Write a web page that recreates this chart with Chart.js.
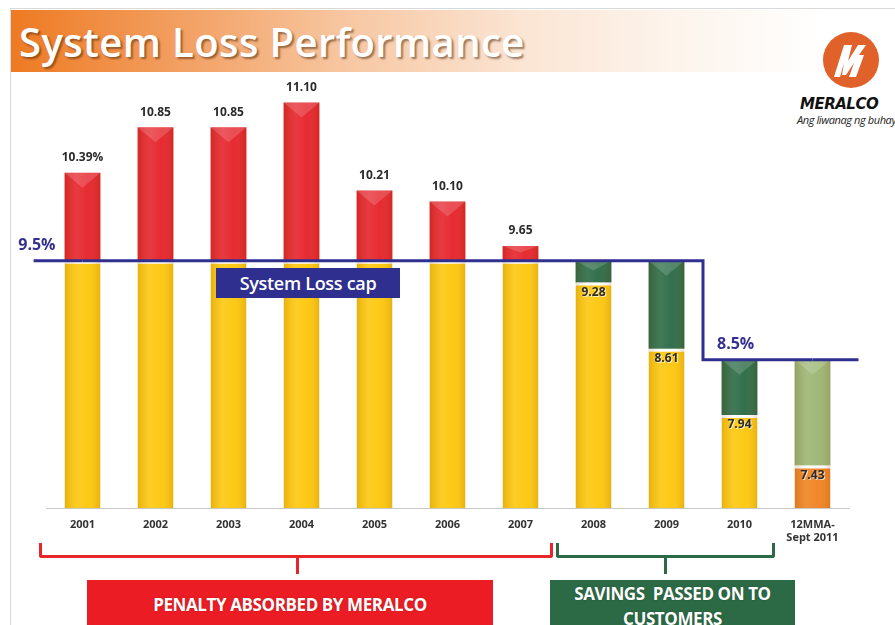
<!DOCTYPE html>
<html>
<head>
<meta charset="utf-8">
<script src="https://cdn.jsdelivr.net/npm/chart.js@4.4.1/dist/chart.umd.min.js"></script>
<style>
  html, body { margin:0; padding:0; background:#fff; }
  #wrap { position:relative; width:895px; height:625px; overflow:hidden; background:#fff; font-family:"Open Sans", sans-serif; }
  #frame { position:absolute; left:10px; top:8px; width:900px; height:700px; border-left:1px solid #d9d9d9; border-top:1px solid #d9d9d9; }
  #banner { position:absolute; left:11px; top:10px; width:884px; height:62px;
    background:linear-gradient(to right, #ee7a22 0%, #f29d5e 18%, #f7c7a2 38%, #fbe5d4 58%, #fdf4ec 75%, #ffffff 92%); }
  #title { position:absolute; left:19px; top:10px; height:62px; line-height:64px; font-size:40px; font-weight:600; color:#fff;
    letter-spacing:0.4px; text-shadow:2px 2px 2px rgba(80,40,10,0.55); white-space:nowrap; }
  canvas#c { position:absolute; left:0; top:0; }
  .ov { position:absolute; }
  #capbox { left:216px; top:268px; width:184px; height:30px; background:#2e2f8f; color:#fff; font-weight:600; font-size:18px;
    line-height:30px; text-align:center; letter-spacing:-0.3px; }
  .br { position:absolute; border:3px solid; border-top:none; height:12px; border-radius:0 0 3px 3px; }
  .tick { position:absolute; width:3px; height:17px; }
  .box { position:absolute; color:#fff; font-weight:700; font-size:17px; text-align:center; letter-spacing:-0.4px; text-shadow:0 0 2px rgba(0,0,0,0.25); }
  #logo-m { left:800px; top:95px; font-size:15px; font-weight:900; font-style:italic; color:#111; letter-spacing:-0.5px; font-family:"DejaVu Sans", sans-serif; }
  #logo-s { left:797px; top:112px; font-size:11px; font-style:italic; color:#222; letter-spacing:-0.4px; white-space:nowrap; }
</style>
</head>
<body>
<div id="wrap">
  <div id="frame"></div>
  <div id="banner"></div>
  <div id="title">System Loss Performance</div>
  <svg class="ov" style="left:822px;top:31px" width="58" height="58" viewBox="0 0 58 58">
    <circle cx="29" cy="29" r="28" fill="#e0622a"/>
    <path d="M12 46 L22 14 L30 14 L26 30 L36 14 L44 14 L37 24 L42 24 L34 46 L27 46 L32 32 L24 44 L20 44 L22 32 L18 46 Z" fill="#fff"/>
  </svg>
  <div class="ov" id="logo-m">MERALCO</div>
  <div class="ov" id="logo-s">Ang liwanag ng buhay</div>

  <canvas id="c" width="895" height="625"></canvas>

  <div class="ov" id="capbox">System Loss cap</div>

  <div class="br" style="left:39px; top:543px; width:508px; border-color:#e8262a;"></div>
  <div class="tick" style="left:296px; top:557px; background:#e8262a;"></div>
  <div class="br" style="left:556px; top:543px; width:213px; border-color:#2c6a45;"></div>
  <div class="tick" style="left:664px; top:557px; background:#2c6a45;"></div>

  <div class="box" style="left:87px; top:580px; width:406px; height:50px; background:#ec1c24; line-height:50px;">PENALTY ABSORBED BY MERALCO</div>
  <div class="box" style="left:550px; top:580px; width:245px; height:50px; background:#2c6a45; line-height:25px; padding-top:1px;">SAVINGS&nbsp; PASSED ON TO<br>CUSTOMERS</div>
</div>
<script>
const categories = ['2001','2002','2003','2004','2005','2006','2007','2008','2009','2010',['12MMA-','Sept 2011']];
const lossValues = [10.39, 10.85, 10.85, 11.10, 10.21, 10.10, 9.65, 9.28, 8.61, 7.94, 7.43];
const valueLabels = ['10.39%','10.85','10.85','11.10','10.21','10.10','9.65','9.28','8.61','7.94','7.43'];
const capValues = [9.5, 9.5, 9.5, 9.5, 9.5, 9.5, 9.5, 9.5, 9.5, 8.5, 8.5];
const capLabels = ['9.5%', '8.5%'];

const baseData = lossValues.map((v, i) => Math.min(v, capValues[i]));
const penaltyData = lossValues.map((v, i) => Math.max(v - capValues[i], 0));
const savingsData = lossValues.map((v, i) => Math.max(capValues[i] - v, 0));
const lastIdx = lossValues.length - 1;

const NAVY = '#2e2f8f';

const shadePlugin = {
  id: 'shade',
  afterDatasetDraw(chart, args) {
    const ds = chart.data.datasets[args.index];
    if (ds.type === 'line') return;
    const ctx = chart.ctx;
    const ca = chart.chartArea;
    ctx.save();
    ctx.beginPath();
    ctx.rect(ca.left, ca.top, ca.right - ca.left, ca.bottom - ca.top);
    ctx.clip();
    args.meta.data.forEach((el) => {
      const p = el.getProps(['x','y','base','width'], true);
      const top = Math.max(Math.min(p.y, p.base), ca.top);
      const bot = Math.min(Math.max(p.y, p.base), ca.bottom);
      const h = bot - top;
      if (h < 1) return;
      const l = p.x - p.width / 2, r = p.x + p.width / 2;
      const g = ctx.createLinearGradient(l, 0, r, 0);
      g.addColorStop(0, 'rgba(120,60,0,0.16)');
      g.addColorStop(0.35, 'rgba(255,255,255,0.10)');
      g.addColorStop(0.65, 'rgba(255,255,255,0.04)');
      g.addColorStop(1, 'rgba(120,60,0,0.16)');
      ctx.fillStyle = g;
      ctx.fillRect(l, top, p.width, h);
      if (ds.bevel) {
        const d = Math.min(p.width * 0.42, h * 0.45);
        ctx.fillStyle = 'rgba(255,255,255,0.16)';
        ctx.beginPath();
        ctx.moveTo(l, top); ctx.lineTo(r, top); ctx.lineTo(p.x, top + d); ctx.closePath();
        ctx.fill();
      }
    });
    ctx.restore();
  }
};

const labelPlugin = {
  id: 'labels',
  afterDatasetsDraw(chart) {
    const ctx = chart.ctx;
    const xs = chart.scales.x, ys = chart.scales.y;
    const step = xs.getPixelForValue(1) - xs.getPixelForValue(0);
    const meta = chart.getDatasetMeta(3);
    const pts = meta.data;
    ctx.save();
    ctx.strokeStyle = NAVY; ctx.lineWidth = 3;
    ctx.beginPath();
    ctx.moveTo(pts[0].x - 0.67 * step, pts[0].y); ctx.lineTo(pts[0].x, pts[0].y);
    ctx.moveTo(pts[lastIdx].x, pts[lastIdx].y); ctx.lineTo(pts[lastIdx].x + 0.63 * step, pts[lastIdx].y);
    ctx.stroke();
    ctx.fillStyle = '#33308f';
    ctx.font = '700 16px "Open Sans"';
    ctx.textBaseline = 'middle';
    ctx.textAlign = 'left';
    ctx.fillText(capLabels[0], pts[0].x - 0.88 * step, pts[0].y - 15);
    let k = capValues.findIndex((v, i) => i > 0 && v !== capValues[i - 1]);
    if (k > 0) {
      const midX = (pts[k - 1].x + pts[k].x) / 2;
      ctx.fillText(capLabels[1], midX + 14, pts[k].y - 15);
    }
    ctx.font = '700 12px "Open Sans"';
    ctx.textAlign = 'center';
    lossValues.forEach((v, i) => {
      const x = xs.getPixelForValue(i);
      const y = ys.getPixelForValue(v);
      const ty = penaltyData[i] > 0 ? y - 15 : y + 10;
      ctx.fillStyle = 'rgba(255,255,255,0.7)';
      ctx.fillText(valueLabels[i], x + 1, ty + 1);
      ctx.fillStyle = '#2b2b2b';
      ctx.fillText(valueLabels[i], x, ty);
    });
    ctx.restore();
  }
};

new Chart(document.getElementById('c'), {
  data: {
    labels: categories,
    datasets: [
      {
        type: 'bar', label: 'Base', data: baseData, stack: 's', order: 2,
        backgroundColor: baseData.map((v, i) => i === lastIdx ? '#f08321' : '#fdc70d'),
        borderColor: '#ffffff', borderSkipped: false,
        borderWidth: { top: 3, left: 0, right: 0, bottom: 0 }
      },
      {
        type: 'bar', label: 'Penalty', data: penaltyData, stack: 's', order: 2, bevel: true,
        backgroundColor: '#e5232a', borderWidth: 0
      },
      {
        type: 'bar', label: 'Savings', data: savingsData, stack: 's', order: 2, bevel: true,
        backgroundColor: savingsData.map((v, i) => i === lastIdx ? '#9cb573' : '#2b6a45'), borderWidth: 0
      },
      {
        type: 'line', label: 'System Loss cap', data: capValues, order: 0,
        borderColor: NAVY, borderWidth: 3, pointRadius: 0, stepped: 'middle', fill: false
      }
    ]
  },
  options: {
    responsive: false,
    animation: false,
    devicePixelRatio: 1,
    layout: { padding: { left: 46, right: 46, top: 63, bottom: 0 } },
    plugins: { legend: { display: false }, tooltip: { enabled: false } },
    datasets: { bar: { categoryPercentage: 1, barPercentage: 0.49 } },
    scales: {
      x: {
        stacked: true, offset: true,
        grid: { display: false, drawTicks: false },
        border: { display: true, color: '#c9c9c9', width: 1 },
        ticks: { color: '#333', font: { family: 'Open Sans', size: 11, weight: '700' }, padding: 10, maxRotation: 0, autoSkip: false },
        afterFit: (s) => { s.height = 117; }
      },
      y: {
        stacked: true, display: false, min: 7, max: 11.5
      }
    }
  },
  plugins: [shadePlugin, labelPlugin]
});
</script>
</body>
</html>
